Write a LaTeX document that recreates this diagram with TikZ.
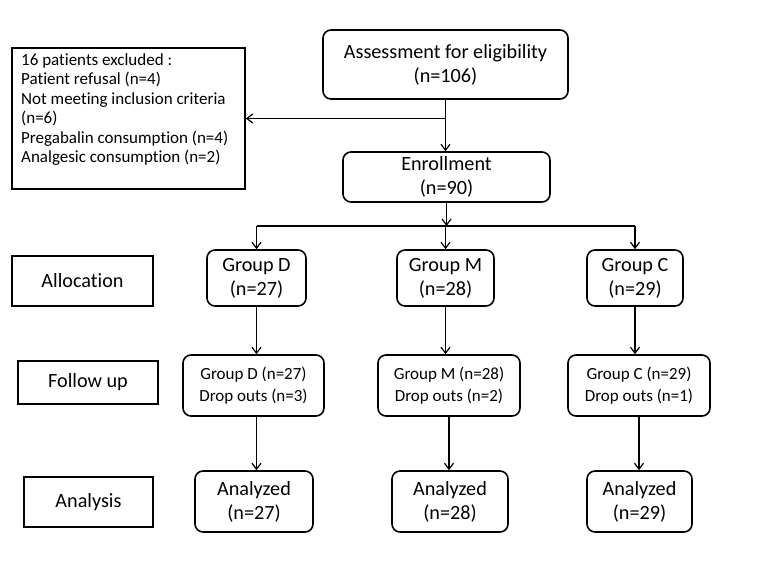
\documentclass[tikz,border=0pt]{standalone}
\usepackage{fontspec}
\setmainfont{Carlito}[Ligatures=NoCommon]
\usetikzlibrary{arrows.meta}
\begin{document}
\begin{tikzpicture}[x=1pt,y=-1pt,
  box/.style={draw, line width=1.6pt, rounded corners=8pt, align=center, inner sep=0pt,
    font=\fontsize{20.2}{24}\selectfont},
  fubox/.style={box, font=\fontsize{17}{22}\selectfont},
  sidebox/.style={draw, line width=1.6pt, align=center, inner sep=0pt,
    font=\fontsize{20.2}{24}\selectfont},
  conn/.style={line width=1.2pt, -{Straight Barb[length=6pt,width=9pt,line width=1.2pt]}},
  plain/.style={line width=1.2pt}]
\useasboundingbox (0,0) rectangle (783,587);
\fill[white] (0,0) rectangle (783,587);

% top part
\node[box, minimum width=245, minimum height=69] (assess) at (445.5,64.5) {Assessment for eligibility\\(n=106)};
\node[box, minimum width=207, minimum height=50] (enrol) at (446.5,177) {Enrollment\\(n=90)};
\node[draw, line width=1.6pt, minimum width=233, minimum height=141, inner sep=0pt] (excl) at (128.5,118.5) {};
\node[anchor=north west, align=left, inner sep=0pt, font=\fontsize{17}{19.5}\selectfont] (excltxt) at (21,53)
  {16 patients excluded :\\Patient refusal (n=4)\\Not meeting inclusion criteria\\(n=6)\\Pregabalin consumption (n=4)\\Analgesic consumption (n=2)};

% groups
\node[box, minimum width=99, minimum height=56] (gd) at (256.5,278) {Group D\\(n=27)};
\node[box, minimum width=97, minimum height=56] (gm) at (445.5,278) {Group M\\(n=28)};
\node[box, minimum width=96, minimum height=56] (gc) at (635,278) {Group C\\(n=29)};

% follow up
\node[fubox, minimum width=141, minimum height=61] (fud) at (253.5,385.5) {Group D (n=27)\\Drop outs (n=3)};
\node[fubox, minimum width=142, minimum height=61] (fum) at (449,385.5) {Group M (n=28)\\Drop outs (n=2)};
\node[fubox, minimum width=142, minimum height=61] (fuc) at (639,385.5) {Group C (n=29)\\Drop outs (n=1)};

% analyzed
\node[box, minimum width=118, minimum height=61] (ad) at (254,501.5) {Analyzed\\(n=27)};
\node[box, minimum width=116, minimum height=61] (am) at (450,501.5) {Analyzed\\(n=28)};
\node[box, minimum width=105, minimum height=61] (ac) at (639.5,501.5) {Analyzed\\(n=29)};

% side labels
\node[sidebox, minimum width=141, minimum height=50] (alloc) at (82.5,281) {Allocation};
\node[sidebox, minimum width=140, minimum height=43] (follow) at (88,382.5) {Follow up};
\node[sidebox, minimum width=129, minimum height=50] (analysis) at (88.5,502) {Analysis};

% connectors
\draw[conn] (assess.south) -- (assess.south |- enrol.north);
\draw[conn] (assess.south |- excl.east) -- (excl.east);
\coordinate (br) at (446.5,226);
\draw[conn] (enrol.south) -- (br);
\draw[plain] (gd.north |- br) -- (gc.north |- br);
\draw[conn] (gd.north |- br) -- (gd.north);
\draw[conn] (gm.north |- br) -- (gm.north);
\draw[conn] (gc.north |- br) -- (gc.north);

\draw[conn] (gd.south) -- (gd.south |- fud.north);
\draw[conn] (gm.south) -- (gm.south |- fum.north);
\draw[conn] (gc.south) -- (gc.south |- fuc.north);

\draw[conn] (gd.south |- fud.south) -- (gd.south |- ad.north);
\draw[conn] (fum.south) -- (fum.south |- am.north);
\draw[conn] (fuc.south) -- (fuc.south |- ac.north);
\end{tikzpicture}
\end{document}
